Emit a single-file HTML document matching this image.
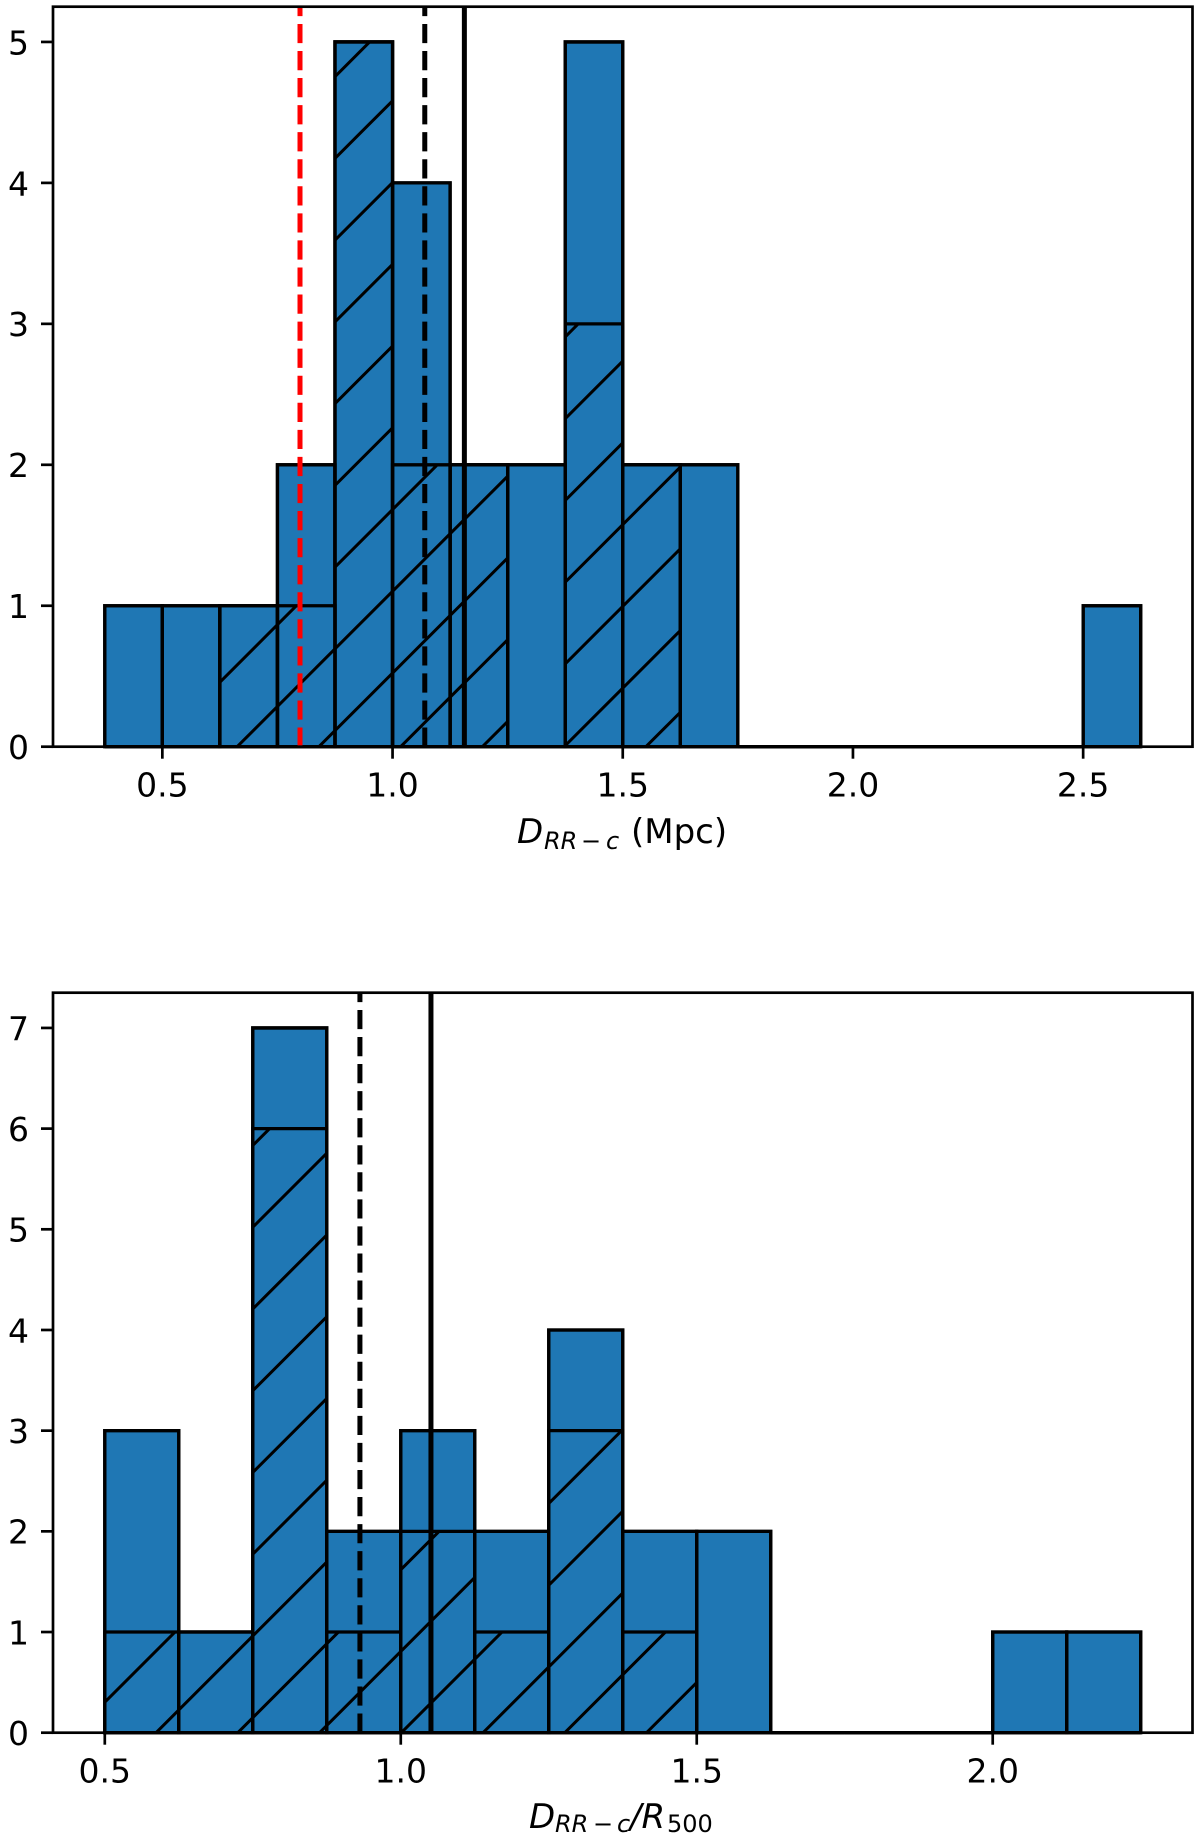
<!DOCTYPE html>
<html lang="en">
<head>
<meta charset="utf-8">
<title>Histograms of relic distance</title>
<style>
html,body{margin:0;padding:0;background:#fff;width:1200px;height:1838px;overflow:hidden;}
svg{display:block;}
text{font-family:"DejaVu Sans","Liberation Sans",sans-serif;fill:#000;}
</style>
</head>
<body>
<svg id="figure" xmlns="http://www.w3.org/2000/svg" width="1200" height="1838" viewBox="0 0 1200 1838">
  <rect x="0" y="0" width="1200" height="1838" fill="#fff"/>
  <defs id="clip-defs"></defs>
  <g id="chart-top"></g>
  <g id="chart-bottom"></g>
  <text font-size="34"><tspan x="517" y="843" font-style="italic">D</tspan><tspan x="544" y="849" font-size="24" font-style="italic">RR</tspan><tspan x="581" y="849" font-size="24">−</tspan><tspan x="606" y="849" font-size="24" font-style="italic">c</tspan><tspan x="631" y="843">(Mpc)</tspan></text>
  <text font-size="34"><tspan x="529" y="1828" font-style="italic">D</tspan><tspan x="555" y="1832.2" font-size="24" font-style="italic">RR</tspan><tspan x="593" y="1832.2" font-size="24">−</tspan><tspan x="617" y="1832.2" font-size="24" font-style="italic">c</tspan><tspan x="630" y="1828" font-style="italic">/R</tspan><tspan x="667" y="1832.2" font-size="24">500</tspan></text>
</svg>
<script>
// Top panel data
const topBinStarts = [0.375,0.5,0.625,0.75,0.875,1.0,1.125,1.25,1.375,1.5,1.625,1.75,1.875,2.0,2.125,2.25,2.375,2.5];
const topAllCounts = [1,1,1,2,5,4,2,2,5,2,2,0,0,0,0,0,0,1];
const topHatchedCounts = [0,0,1,1,5,2,2,0,3,2,0,0,0,0,0,0,0,0];
const topXTicks = [0.5,1.0,1.5,2.0,2.5];
const topXTickLabels = ["0.5","1.0","1.5","2.0","2.5"];
const topYTicks = [0,1,2,3,4,5];
const topRedDashedValue = 0.799;
const topBlackDashedValue = 1.07;
const topBlackSolidValue = 1.156;

// Bottom panel data
const bottomBinStarts = [0.5,0.625,0.75,0.875,1.0,1.125,1.25,1.375,1.5,1.625,1.75,1.875,2.0,2.125];
const bottomAllCounts = [3,1,7,2,3,2,4,2,2,0,0,0,1,1];
const bottomHatchedCounts = [1,1,6,1,2,1,3,1,0,0,0,0,0,0];
const bottomXTicks = [0.5,1.0,1.5,2.0];
const bottomXTickLabels = ["0.5","1.0","1.5","2.0"];
const bottomYTicks = [0,1,2,3,4,5,6,7];
const bottomBlackDashedValue = 0.931;
const bottomBlackSolidValue = 1.051;

const binWidth = 0.125;
const NS = 'http://www.w3.org/2000/svg';

function mk(parent, tag, attrs, txt) {
  const el = document.createElementNS(NS, tag);
  for (const k in attrs) el.setAttribute(k, attrs[k]);
  if (txt !== undefined) el.textContent = txt;
  parent.appendChild(el);
  return el;
}

function drawPanel(root, prefix, box, xDomain, yMax, starts, allCounts, hatchedCounts, xTicks, xLabels, yTicks, vlines, hatchBase) {
  const xs = v => box.left + (v - xDomain[0]) / (xDomain[1] - xDomain[0]) * (box.right - box.left);
  const ys = v => box.bottom - v / yMax * (box.bottom - box.top);

  // base histogram bars
  starts.forEach((s, i) => {
    const p = mk(root, 'path', {
      d: `M${xs(s)} ${ys(0)}V${ys(allCounts[i])}H${xs(s + binWidth)}V${ys(0)}Z`,
      fill: '#1f77b4', stroke: '#000', 'stroke-width': 3.3
    });
    
    
  });

  // hatched histogram bars
  const clipDefs = document.getElementById('clip-defs');
  const clip = mk(clipDefs, 'clipPath', {id: prefix + '-hatch-clip'});
  
  
  starts.forEach((s, i) => {
    if (hatchedCounts[i] > 0) {
      mk(clip, 'rect', {x: xs(s), y: ys(hatchedCounts[i]), width: xs(s + binWidth) - xs(s), height: ys(0) - ys(hatchedCounts[i])});
    }
  });
  starts.forEach((s, i) => {
    if (hatchedCounts[i] > 0) {
      const f = mk(root, 'rect', {x: xs(s), y: ys(hatchedCounts[i]), width: xs(s + binWidth) - xs(s), height: ys(0) - ys(hatchedCounts[i]), fill: '#1f77b4'});
      
      
    }
  });
  const hatchGroup = mk(root, 'g', {'clip-path': `url(#${prefix}-hatch-clip)`});
  
  
  const period = 81.75;
  for (let c = hatchBase - period * 30; c < hatchBase + period * 30; c += period) {
    // keep each diagonal inside the axes box
    const xa = Math.max(box.left, c - box.bottom);
    const xb = Math.min(box.right, c - box.top);
    if (xa >= xb) continue;
    mk(hatchGroup, 'line', {x1: xa, y1: c - xa, x2: xb, y2: c - xb, stroke: '#000', 'stroke-width': 3});
  }
  starts.forEach((s, i) => {
    const p = mk(root, 'path', {
      d: `M${xs(s)} ${ys(0)}V${ys(hatchedCounts[i])}H${xs(s + binWidth)}V${ys(0)}Z`,
      fill: 'none', stroke: '#000', 'stroke-width': 3.3
    });
    
    
  });
  // upper parts of the base bars stay outlined above hatched fill
  starts.forEach((s, i) => {
    const p = mk(root, 'path', {
      d: `M${xs(s)} ${ys(0)}V${ys(allCounts[i])}H${xs(s + binWidth)}V${ys(0)}`,
      fill: 'none', stroke: '#000', 'stroke-width': 3.3
    });
    
    
  });

  // reference lines
  vlines.forEach(v => {
    const attrs = {x1: xs(v.value), x2: xs(v.value), y1: box.bottom, y2: box.top, stroke: v.color, 'stroke-width': 5};
    if (v.dashed) attrs['stroke-dasharray'] = '19.2 7.86';
    const l = mk(root, 'line', attrs);
    
    
  });

  // ticks & labels
  xTicks.forEach((t, i) => {
    const tk = mk(root, 'line', {x1: xs(t), x2: xs(t), y1: box.bottom, y2: box.bottom + 12, stroke: '#000', 'stroke-width': 2.7});
    
    
    const lb = mk(root, 'text', {x: xs(t), y: box.bottom + 50, 'text-anchor': 'middle', 'font-size': 33}, xLabels[i]);
    
    
  });
  yTicks.forEach(t => {
    const tk = mk(root, 'line', {x1: box.left - 12, x2: box.left, y1: ys(t), y2: ys(t), stroke: '#000', 'stroke-width': 2.7});
    
    
    const lb = mk(root, 'text', {x: 29, y: ys(t) + 12.4, 'text-anchor': 'end', 'font-size': 33}, String(t));
    
    
  });

  // axes frame
  const frame = mk(root, 'rect', {x: box.left, y: box.top, width: box.right - box.left, height: box.bottom - box.top, fill: 'none', stroke: '#000', 'stroke-width': 2.7});
  
  
}

drawPanel(document.getElementById('chart-top'), 'top',
  {left: 53, right: 1192.5, top: 6.7, bottom: 746.7}, [0.2625, 2.7375], 5.25,
  topBinStarts, topAllCounts, topHatchedCounts, topXTicks, topXTickLabels, topYTicks,
  [{value: topRedDashedValue, color: '#ff0000', dashed: true, name: 'top-red-dashed-line'},
   {value: topBlackDashedValue, color: '#000', dashed: true, name: 'top-black-dashed-line'},
   {value: topBlackSolidValue, color: '#000', dashed: false, name: 'top-black-solid-line'}], 411.6);

drawPanel(document.getElementById('chart-bottom'), 'bottom',
  {left: 53, right: 1192.5, top: 992.7, bottom: 1732.7}, [0.4125, 2.3375], 7.35,
  bottomBinStarts, bottomAllCounts, bottomHatchedCounts, bottomXTicks, bottomXTickLabels, bottomYTicks,
  [{value: bottomBlackDashedValue, color: '#000', dashed: true, name: 'bottom-black-dashed-line'},
   {value: bottomBlackSolidValue, color: '#000', dashed: false, name: 'bottom-black-solid-line'}], 1480);
</script>
</body>
</html>
